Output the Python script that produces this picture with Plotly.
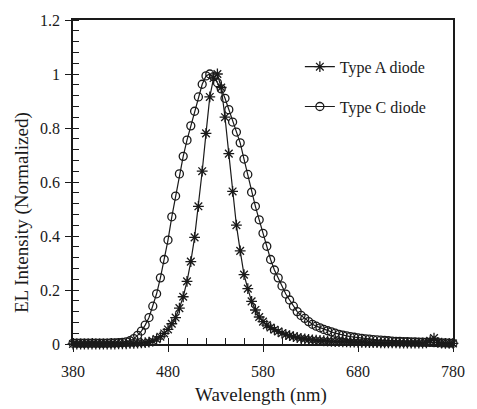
import plotly.graph_objects as go

wavelength = [380, 384, 388, 392, 396, 400, 404, 408, 412, 416, 420, 424, 428, 432, 436, 440, 444, 448, 452, 456,
              460, 464, 468, 472, 476, 480, 484, 488, 492, 496, 500, 504, 508, 512, 516, 520, 524, 528, 532, 536,
              540, 544, 548, 552, 556, 560, 564, 568, 572, 576, 580, 584, 588, 592, 596, 600, 604, 608, 612, 616,
              620, 624, 628, 632, 636, 640, 644, 648, 652, 656, 660, 664, 668, 672, 676, 680, 684, 688, 692, 696,
              700, 704, 708, 712, 716, 720, 724, 728, 732, 736, 740, 744, 748, 752, 756, 760, 764, 768, 772, 776, 780]

type_a = [0, 0, 0, 0, 0, 0, 0, 0, 0, 0, 0, 0, 0.001, 0.001, 0.001, 0.002, 0.002, 0.003, 0.004, 0.005,
          0.007, 0.011, 0.018, 0.027, 0.039, 0.054, 0.075, 0.098, 0.133, 0.175, 0.232, 0.305, 0.395, 0.51, 0.64, 0.78, 0.915, 0.985, 1.0, 0.95,
          0.84, 0.705, 0.565, 0.44, 0.345, 0.257, 0.205, 0.158, 0.126, 0.1, 0.083, 0.07, 0.061, 0.053, 0.046, 0.04, 0.035, 0.031, 0.027, 0.024,
          0.021, 0.019, 0.017, 0.015, 0.014, 0.013, 0.012, 0.011, 0.01, 0.009, 0.009, 0.008, 0.008, 0.007, 0.007, 0.006, 0.006, 0.006, 0.005, 0.005,
          0.005, 0.004, 0.004, 0.004, 0.004, 0.004, 0.003, 0.003, 0.003, 0.003, 0.003, 0.003, 0.003, 0.004, 0.012, 0.022, 0.006, 0.003, 0.002, 0.002, 0.002]

type_c = [0.003, 0.003, 0.003, 0.003, 0.003, 0.003, 0.003, 0.003, 0.003, 0.003, 0.004, 0.004, 0.005, 0.006, 0.008, 0.012, 0.02, 0.032, 0.048, 0.07,
          0.098, 0.14, 0.186, 0.245, 0.313, 0.385, 0.471, 0.548, 0.63, 0.695, 0.755, 0.808, 0.862, 0.915, 0.962, 0.993, 1.0, 0.99, 0.968, 0.945,
          0.91, 0.868, 0.822, 0.785, 0.745, 0.685, 0.628, 0.562, 0.51, 0.46, 0.41, 0.362, 0.313, 0.274, 0.245, 0.215, 0.185, 0.163, 0.14, 0.12,
          0.106, 0.095, 0.083, 0.073, 0.066, 0.06, 0.054, 0.049, 0.045, 0.04, 0.036, 0.033, 0.03, 0.027, 0.025, 0.023, 0.021, 0.019, 0.018, 0.016,
          0.015, 0.014, 0.013, 0.012, 0.011, 0.01, 0.01, 0.009, 0.009, 0.008, 0.008, 0.007, 0.007, 0.006, 0.006, 0.005, 0.005, 0.004, 0.004, 0.003, 0.003]

series_names = ["Type A diode", "Type C diode"]
x_title = "Wavelength (nm)"
y_title = "EL Intensity (Normalized)"

FONT = "Liberation Serif, Times New Roman, serif"
INK = "#1a1a1a"

fig = go.Figure()
fig.add_trace(go.Scatter(
    x=wavelength, y=type_a, name=series_names[0], mode="lines+markers",
    line=dict(color=INK, width=1.2),
    marker=dict(symbol="asterisk-open", size=9, color=INK, line=dict(color=INK, width=1.3)),
    cliponaxis=False, legendgroup="a"))
fig.add_trace(go.Scatter(
    x=wavelength, y=type_c, name=series_names[1], mode="lines+markers",
    line=dict(color=INK, width=1.2),
    marker=dict(symbol="circle-open", size=8, color=INK, line=dict(color=INK, width=1.3)),
    cliponaxis=False, legendgroup="c"))
# helper trace for the inner half of major ticks
fig.add_trace(go.Scatter(x=[None], y=[None], xaxis="x2", yaxis="y2", showlegend=False, hoverinfo="skip"))

axis_common = dict(showgrid=False, zeroline=False, showline=True, linecolor=INK, linewidth=1.6,
                   mirror=True, ticks="outside", ticklen=6, tickwidth=1.4, tickcolor=INK,
                   tickfont=dict(family=FONT, size=16, color=INK))

fig.update_layout(
    width=477, height=409,
    margin=dict(l=73, r=14, t=18, b=65),
    paper_bgcolor="white", plot_bgcolor="white",
    font=dict(family=FONT, color=INK),
    xaxis=dict(range=[380, 780], tick0=380, dtick=100,
               minor=dict(ticks="inside", dtick=20, tick0=380, ticklen=6, tickwidth=1.4, tickcolor=INK),
               ticklabelstandoff=6, **axis_common),
    yaxis=dict(range=[0, 1.2], tick0=0, dtick=0.2,
               minor=dict(ticks="inside", dtick=0.04, tick0=0, ticklen=6, tickwidth=1.4, tickcolor=INK),
               ticklabelstandoff=2, **axis_common),
    xaxis2=dict(overlaying="x", anchor="y2", side="bottom", range=[380, 780], tick0=380, dtick=100,
                ticks="inside", ticklen=6, tickwidth=1.4, tickcolor=INK, showticklabels=False,
                showgrid=False, zeroline=False, showline=False),
    yaxis2=dict(overlaying="y", anchor="x2", side="left", range=[0, 1.2], tick0=0, dtick=0.2,
                ticks="inside", ticklen=6, tickwidth=1.4, tickcolor=INK, showticklabels=False,
                showgrid=False, zeroline=False, showline=False),
    legend=dict(x=0.597, y=0.908, xanchor="left", yanchor="top", bgcolor="rgba(0,0,0,0)",
                font=dict(family=FONT, size=16, color=INK), traceorder="grouped", tracegroupgap=16),
    showlegend=True,
    annotations=[
        dict(text=x_title, xref="paper", yref="paper", x=0.495, y=-0.156, showarrow=False,
             xanchor="center", yanchor="middle", font=dict(family=FONT, size=19, color=INK)),
        dict(text=y_title, xref="paper", yref="paper", x=-0.136, y=0.405, showarrow=False, textangle=-90,
             xanchor="center", yanchor="middle", font=dict(family=FONT, size=19, color=INK)),
    ],
)

fig.write_html(
    "out.html",
    config={"displayModeBar": False},
    post_script="document.body.style.margin='0';document.body.style.padding='0';"
                "document.documentElement.style.overflow='hidden';",
)
